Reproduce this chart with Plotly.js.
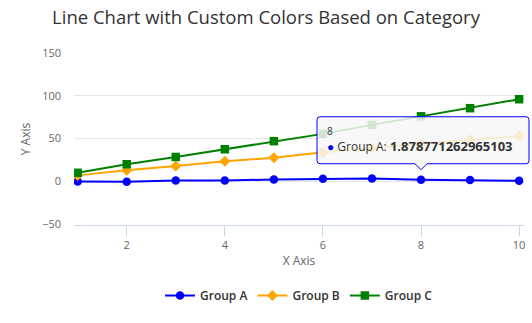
<!DOCTYPE html>
<html>
<head>
<meta charset="utf-8">
<script src="https://cdn.plot.ly/plotly-3.0.1.min.js"></script>
<style>html,body{margin:0;padding:0;background:#fff;}#chart{width:532px;height:323px;}</style>
</head>
<body>
<div id="chart"></div>
<script>
const xValues = [1, 2, 3, 4, 5, 6, 7, 8, 9, 10];
const groupA = [-0.1, -0.5, 1.0, 1.0, 2.2, 3.0, 3.4, 1.878771262965103, 1.5, 0.7];
const groupB = [7, 13, 18, 23.5, 27.5, 34, 39, 44, 48.5, 53];
const groupC = [10, 20, 28.5, 37.5, 47, 55.5, 66, 76, 85.5, 96];
const seriesNames = ['Group A', 'Group B', 'Group C'];
const seriesColors = ['blue', 'orange', 'green'];
const yTicks = [-50, 0, 50, 100, 150];
const hoverIndex = 7;

const FONT = '"Open Sans", sans-serif';
const xRange = [0.925, 10.1];
const yRange = [-51, 150];

const symbols = ['circle', 'diamond', 'square'];
const sizes = [8.5, 8.5, 8.5];
const allY = [groupA, groupB, groupC];

const traces = allY.map((ys, i) => ({
  x: xValues, y: ys, name: seriesNames[i], type: 'scatter', mode: 'lines+markers',
  line: {color: seriesColors[i], width: 2},
  marker: {color: seriesColors[i], symbol: symbols[i], size: sizes[i]},
  hoverinfo: 'none'
}));

// tooltip anchored at hovered point (paper coords computed through axis ranges)
const hx = xValues[hoverIndex], hy = groupA[hoverIndex];
const px = (hx - xRange[0]) / (xRange[1] - xRange[0]);
const py = (hy - yRange[0]) / (yRange[1] - yRange[0]);
const L = -104, R = 108, T = 63, B = 16, r = 3, tip = 10, hw = 6;
const calloutPath = `M ${L + r},${T} H ${R - r} Q ${R},${T} ${R},${T - r} V ${B + r} Q ${R},${B} ${R - r},${B} H ${hw} L 0,${tip} L ${-hw},${B} H ${L + r} Q ${L},${B} ${L},${B + r} V ${T - r} Q ${L},${T} ${L + r},${T} Z`;

const layout = {
  width: 532, height: 323,
  margin: {l: 74, r: 8, t: 53, b: 97.5},
  paper_bgcolor: '#ffffff', plot_bgcolor: '#ffffff',
  font: {family: FONT, color: '#666666', size: 11},
  title: {text: 'Line Chart with Custom Colors Based on Category', font: {family: FONT, size: 18.5, color: '#333333'},
          x: 0.5, xanchor: 'center', y: 0.945, yanchor: 'middle'},
  showlegend: true,
  legend: {orientation: 'h', x: 0.5, xanchor: 'center', y: -0.41, yanchor: 'middle',
           font: {family: FONT, size: 12, color: '#333333', weight: 600}, itemwidth: 30},
  xaxis: {range: xRange, showgrid: false, zeroline: false, showline: true, linecolor: '#ccd6eb', linewidth: 1,
          ticks: 'outside', ticklen: 10, tickcolor: '#ccd6eb', tickvals: [2, 4, 6, 8, 10],
          tickfont: {family: FONT, size: 11, color: '#666666'},
          title: {text: 'X Axis', font: {family: FONT, size: 12, color: '#666666'}, standoff: 5}},
  yaxis: {range: yRange, tickvals: yTicks, showgrid: true, gridcolor: '#e6e6e6', zeroline: false, showline: false,
          ticks: '', ticklabelstandoff: 12, tickfont: {family: FONT, size: 11, color: '#666666'},
          title: {text: 'Y Axis', font: {family: FONT, size: 12, color: '#666666'}, standoff: 8}},
  shapes: [{
    type: 'path', xref: 'paper', yref: 'paper', xsizemode: 'pixel', ysizemode: 'pixel',
    xanchor: px, yanchor: py, path: calloutPath,
    fillcolor: 'rgba(247,247,247,0.85)', line: {color: seriesColors[0], width: 1}, layer: 'above'
  }],
  annotations: [{
    xref: 'paper', yref: 'paper', x: px, y: py, xanchor: 'left', yanchor: 'middle', showarrow: false,
    xshift: L + 8, yshift: 49, align: 'left',
    font: {family: FONT, size: 10, color: '#333333'},
    text: `${hx}`
  }, {
    xref: 'paper', yref: 'paper', x: px, y: py, xanchor: 'left', yanchor: 'middle', showarrow: false,
    xshift: L + 8, yshift: 34, align: 'left',
    font: {family: FONT, size: 12, color: '#333333'},
    text: `<span style="color:${seriesColors[0]}">●</span> ${seriesNames[0]}: <span style="font-size:13px"><b>${hy}</b></span>`
  }]
};

Plotly.newPlot('chart', traces, layout, {displayModeBar: false, staticPlot: true});
</script>
</body>
</html>
